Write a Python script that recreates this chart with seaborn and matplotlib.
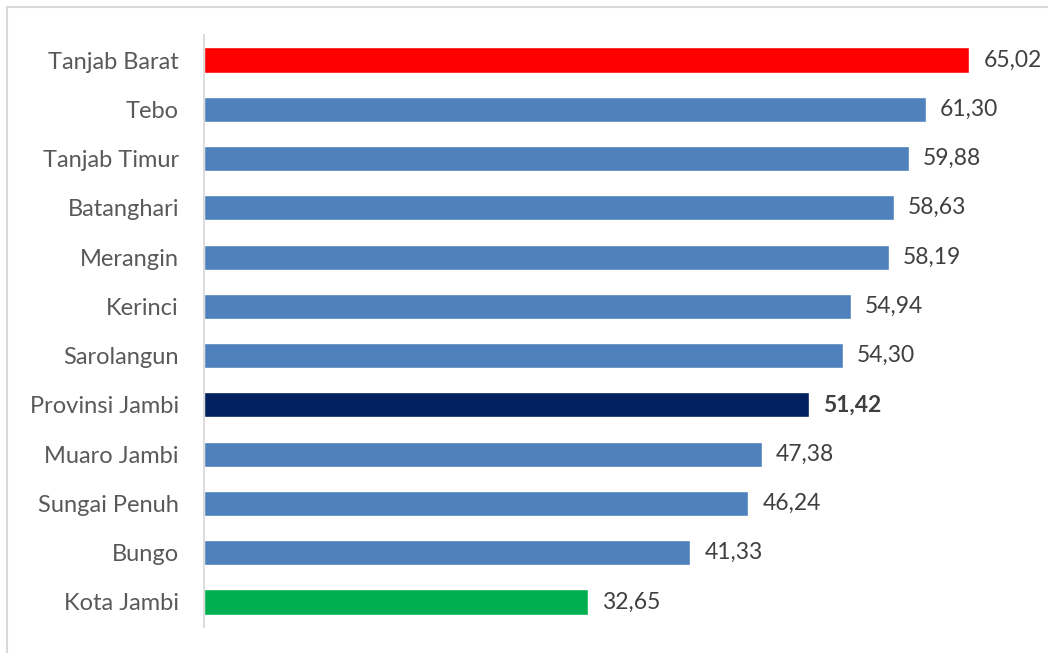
import matplotlib
matplotlib.use("Agg")
import matplotlib.pyplot as plt
from matplotlib.patches import Rectangle
import seaborn as sns
import pandas as pd

regions = ["Tanjab Barat", "Tebo", "Tanjab Timur", "Batanghari", "Merangin", "Kerinci",
           "Sarolangun", "Provinsi Jambi", "Muaro Jambi", "Sungai Penuh", "Bungo", "Kota Jambi"]
values = [65.02, 61.30, 59.88, 58.63, 58.19, 54.94, 54.30, 51.42, 47.38, 46.24, 41.33, 32.65]
bar_colors = ["#ff0000", "#4f81bd", "#4f81bd", "#4f81bd", "#4f81bd", "#4f81bd",
              "#4f81bd", "#002060", "#4f81bd", "#4f81bd", "#4f81bd", "#00b050"]

df = pd.DataFrame({"region": regions, "value": values})

sns.set_theme(style="white")
plt.rcParams["font.family"] = ["Lato", "DejaVu Sans"]

fig = plt.figure(figsize=(10.48, 6.53), dpi=100)
ax = fig.add_axes([204 / 1048, 1 - 626.6 / 653, (1040 - 204) / 1048, (626.6 - 35.4) / 653])

sns.barplot(data=df, x="value", y="region", hue="region", palette=bar_colors,
            legend=False, width=0.51, orient="h", ax=ax, saturation=1)

ax.set_xlim(0, (1040 - 204) / 11.77)
ax.set_ylim(11.5, -0.5)
ax.set_xlabel("")
ax.set_ylabel("")
ax.set_xticks([])
for side in ["top", "right", "bottom"]:
    ax.spines[side].set_visible(False)
ax.spines["left"].set_color("#d9d9d9")
ax.spines["left"].set_linewidth(1.3)
ax.tick_params(axis="y", length=0, pad=18, labelsize=17, labelcolor="#595959")

for i, v in enumerate(values):
    label = f"{v:.2f}".replace(".", ",")
    bold = regions[i] == "Provinsi Jambi"
    ax.text(v + 1.2, i, label, va="center", ha="left", fontsize=16.5,
            color="#404040", fontweight="bold" if bold else "normal")

# light chart frame
fig.patches.append(Rectangle((7 / 1048, -0.1), 1.2, 1 - 7 / 653 + 0.1,
                             transform=fig.transFigure, fill=False,
                             edgecolor="#d9d9d9", linewidth=1.5))

fig.savefig("out.png", dpi=100)
